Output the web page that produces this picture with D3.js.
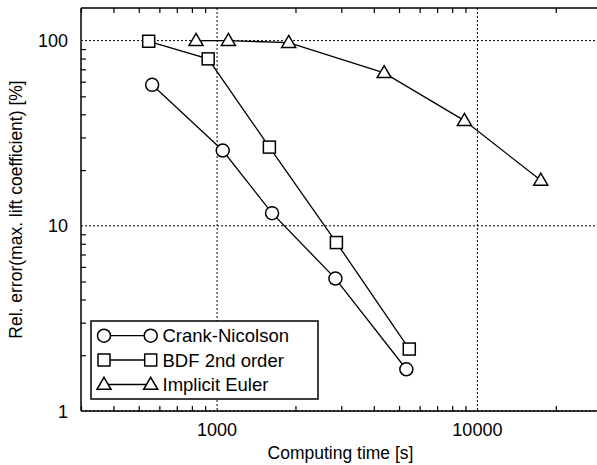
<!DOCTYPE html>
<html><head><meta charset="utf-8">
<script src="https://cdn.jsdelivr.net/npm/d3@7"></script>
<style>
html,body{margin:0;padding:0;background:#fff;}
svg{display:block;font-family:"Liberation Sans",Arial,Helvetica,sans-serif;}
</style></head><body>
<svg id="c" width="597" height="465"></svg>
<script>
const seriesNames = ["Crank-Nicolson", "BDF 2nd order", "Implicit Euler"];
const seriesShapes = ["circle", "square", "triangle"];
const cnTime = [563, 1051, 1626, 2848, 5333];
const cnError = [57.7, 25.5, 11.7, 5.19, 1.68];
const bdfTime = [546, 924, 1588, 2873, 5474];
const bdfError = [99.2, 79.7, 26.6, 8.12, 2.16];
const ieTime = [830, 1105, 1884, 4381, 8913, 17510];
const ieError = [100, 100, 97.5, 67, 37, 17.6];
const xMajorTicks = [1000, 10000];
const yMajorTicks = [1, 10, 100];
const xLabel = "Computing time [s]";
const yLabel = "Rel. error(max. lift coefficient) [%]";

const series = [
  {name: seriesNames[0], shape: seriesShapes[0], t: cnTime, e: cnError},
  {name: seriesNames[1], shape: seriesShapes[1], t: bdfTime, e: bdfError},
  {name: seriesNames[2], shape: seriesShapes[2], t: ieTime, e: ieError}
];

const svg = d3.select("#c");
const pLeft = 81, pTop = 8, pBottom = 411;
const decX = 260.3;
const x = d3.scaleLog().domain([300, 40000]).range([pLeft, pLeft + Math.log10(40000/300)*decX]);
const y = d3.scaleLog().domain([1, 150]).range([pBottom, pTop]);

// minor ticks
const xMinor = [];
for (let d = 100; d <= 10000; d *= 10) for (let k = 2; k <= 9; k++) { const v = d*k; if (v >= 300 && v <= 40000) xMinor.push(v); }
const yMinor = [];
for (let d = 1; d <= 100; d *= 10) for (let k = 2; k <= 9; k++) { const v = d*k; if (v <= 150) yMinor.push(v); }

const g = svg.append("g");
// grid
g.selectAll(".gx").data(xMajorTicks).enter().append("line")
  .attr("x1", d => x(d)).attr("x2", d => x(d)).attr("y1", pTop).attr("y2", pBottom)
  .attr("stroke", "#000").attr("stroke-width", 1).attr("stroke-dasharray", "2,2");
g.selectAll(".gy").data(yMajorTicks).enter().append("line")
  .attr("x1", pLeft).attr("x2", 597).attr("y1", d => y(d)).attr("y2", d => y(d))
  .attr("stroke", "#000").attr("stroke-width", 1).attr("stroke-dasharray", "2,2");

// axes (inward ticks)
const axB = d3.axisTop(x).tickValues(xMinor).tickSize(5).tickFormat("");
const axT = d3.axisBottom(x).tickValues(xMinor).tickSize(5).tickFormat("");
const axL = d3.axisRight(y).tickValues(yMinor).tickSize(5).tickFormat("");
function styleAxis(sel){
  sel.select(".domain").remove();
  sel.selectAll(".tick line").attr("stroke", "#000").attr("stroke-width", 1.2);
}
svg.append("g").attr("transform", `translate(0,${pBottom})`).call(axB).call(styleAxis);
svg.append("g").attr("transform", `translate(0,${pTop})`).call(axT).call(styleAxis);
svg.append("g").attr("transform", `translate(${pLeft},0)`).call(axL).call(styleAxis);
// frame lines
svg.append("line").attr("x1", pLeft).attr("x2", 597).attr("y1", pTop).attr("y2", pTop).attr("stroke", "#000").attr("stroke-width", 1.5);
svg.append("line").attr("x1", pLeft).attr("x2", 597).attr("y1", pBottom).attr("y2", pBottom).attr("stroke", "#000").attr("stroke-width", 1.5);
svg.append("line").attr("x1", pLeft).attr("x2", pLeft).attr("y1", pTop).attr("y2", pBottom).attr("stroke", "#000").attr("stroke-width", 1.5);

// tick labels
svg.selectAll(".xl").data(xMajorTicks).enter().append("text")
  .attr("x", d => x(d)).attr("y", 436).attr("text-anchor", "middle")
  .attr("font-size", 18).text(d => d);
svg.selectAll(".yl").data(yMajorTicks).enter().append("text")
  .attr("x", 68).attr("y", d => y(d) + 6.5).attr("text-anchor", "end")
  .attr("font-size", 18).text(d => d);
svg.append("text").attr("x", 340.5).attr("y", 459).attr("text-anchor", "middle")
  .attr("font-size", 17.5).text(xLabel);
svg.append("text").attr("transform", `translate(22,${(pTop+pBottom)/2}) rotate(-90)`)
  .attr("text-anchor", "middle").attr("font-size", 17.5).text(yLabel);

function drawMarker(sel, shape, cx, cy){
  if (shape === "circle") {
    sel.append("circle").attr("cx", cx).attr("cy", cy).attr("r", 6.5)
      .attr("fill", "#fff").attr("stroke", "#000").attr("stroke-width", 1.5);
  } else if (shape === "square") {
    sel.append("rect").attr("x", cx - 6).attr("y", cy - 6).attr("width", 12).attr("height", 12)
      .attr("fill", "#fff").attr("stroke", "#000").attr("stroke-width", 1.5);
  } else {
    const h = 12, w = 14;
    sel.append("path").attr("d", `M${cx},${cy - h*0.6}L${cx + w/2},${cy + h*0.4}L${cx - w/2},${cy + h*0.4}Z`)
      .attr("fill", "#fff").attr("stroke", "#000").attr("stroke-width", 1.5);
  }
}

const line = d3.line().x(d => x(d[0])).y(d => y(d[1]));
series.forEach(s => {
  const pts = s.t.map((t, i) => [t, s.e[i]]);
  svg.append("path").datum(pts).attr("d", line).attr("fill", "none")
    .attr("stroke", "#000").attr("stroke-width", 1.3);
});
series.forEach(s => {
  const mg = svg.append("g");
  s.t.forEach((t, i) => drawMarker(mg, s.shape, x(t), y(s.e[i])));
});

// legend
const lg = svg.append("g");
lg.append("rect").attr("x", 91).attr("y", 321).attr("width", 227).attr("height", 78)
  .attr("fill", "#fff").attr("stroke", "#000").attr("stroke-width", 1.5);
const rowY = [335.7, 360, 384.5];
series.forEach((s, i) => {
  lg.append("line").attr("x1", 104).attr("x2", 150.7).attr("y1", rowY[i]).attr("y2", rowY[i])
    .attr("stroke", "#000").attr("stroke-width", 1.3);
  drawMarker(lg, s.shape, 104, rowY[i]);
  drawMarker(lg, s.shape, 150.7, rowY[i]);
  lg.append("text").attr("x", 162.5).attr("y", rowY[i] + 6.5).attr("font-size", 18.5).text(s.name);
});
</script>
</body></html>
